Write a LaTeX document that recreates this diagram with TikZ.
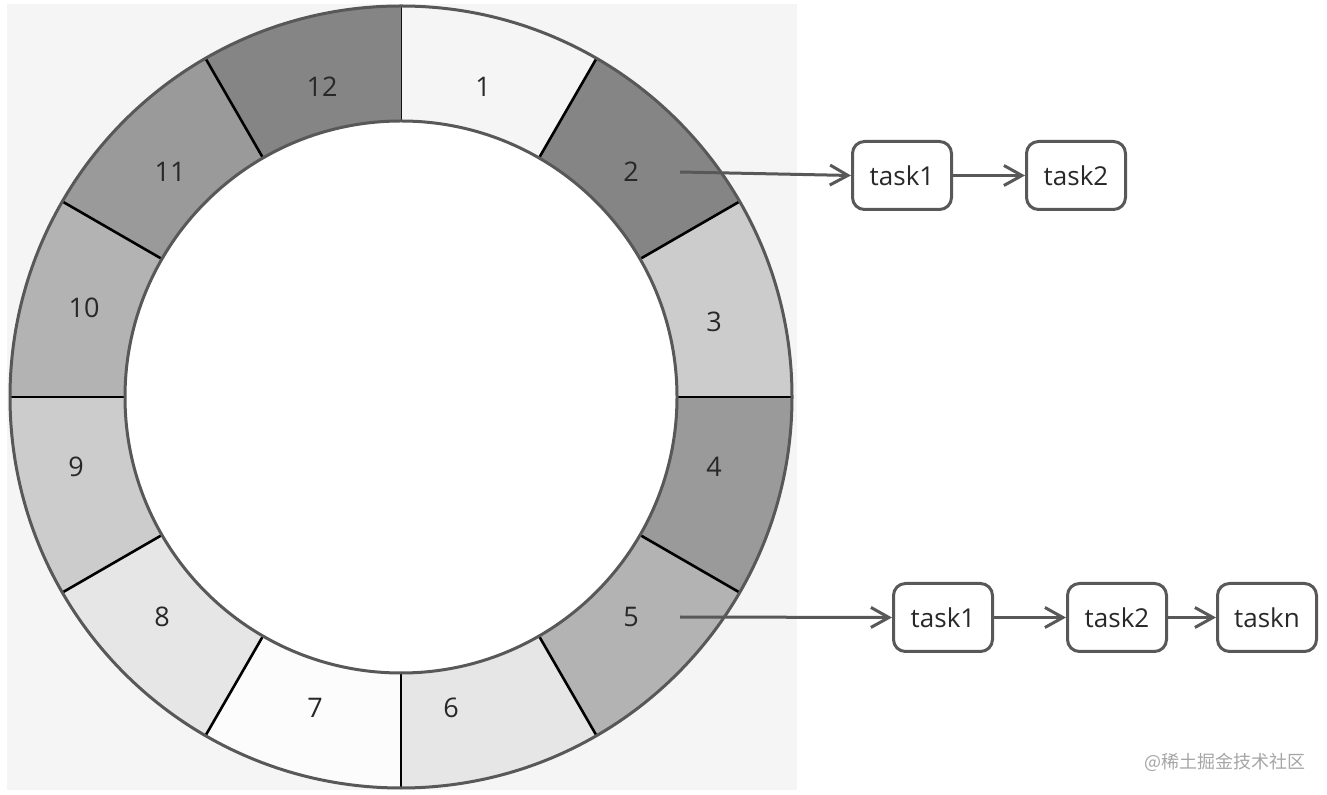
\documentclass[tikz,border=0pt]{standalone}
\usepackage{fontspec}
\setmainfont{Open Sans}
\newfontfamily\cjkfont{Noto Sans CJK SC}
\usetikzlibrary{arrows.meta,positioning,calc}
\definecolor{pagebg}{RGB}{245,245,245}
\definecolor{edgegrey}{RGB}{88,88,88}
\definecolor{txtgrey}{RGB}{40,40,40}
\definecolor{wmgrey}{RGB}{165,165,165}
\tikzset{
  slotlbl/.style={font=\fontsize{13.5}{15}\selectfont,text=txtgrey,inner sep=0pt},
  taskbox/.style={draw=edgegrey,line width=1.5pt,fill=white,rounded corners=6pt,
                  minimum width=49.5pt,minimum height=34pt,inner sep=0pt,
                  font=\fontsize{13}{15}\selectfont,text=txtgrey},
  link/.style={-{Straight Barb[length=9pt,width=10pt]},line width=1.5pt,draw=edgegrey},
  ringline/.style={draw=edgegrey,line width=1.5pt},
}

\begin{document}
\begin{tikzpicture}[x=0.5pt,y=0.5pt]
  \useasboundingbox (0,0) rectangle (1327,-795);
  \fill[pagebg] (7,-4) rectangle (797,-790);
  \coordinate (ctr) at (401,-397);

  % twelve slots of the wheel
  \foreach \k/\shade in {1/245,2/133,3/204,4/154,5/179,6/230,
                         7/252,8/230,9/204,10/179,11/154,12/133}{
    \pgfmathsetmacro{\aa}{90-30*(\k-1)}
    \pgfmathsetmacro{\ab}{90-30*\k}
    \definecolor{segfill}{RGB}{\shade,\shade,\shade}
    \fill[segfill] ($(ctr)+(\aa:391)$) arc[start angle=\aa,end angle=\ab,radius=391]
      -- ($(ctr)+(\ab:276)$) arc[start angle=\ab,end angle=\aa,radius=276] -- cycle;
    \draw[line width=1.3pt] ($(ctr)+(\aa:276)$) -- ($(ctr)+(\aa:391)$);
  }
  \fill[white] (ctr) circle[radius=276];
  \draw[ringline] (ctr) circle[radius=391];
  \draw[ringline] (ctr) circle[radius=276];

  % slot numbers
  \foreach \k/\px/\py in {1/483/87,2/631/172,3/714/322,4/714/467,5/631/617,6/451/708,
                          7/315/708,8/162/617,9/76/467,10/84/308,11/170/172,12/322/87}
    \node[slotlbl] (slot\k) at (\px,-\py) {\k};

  % task lists
  \node[taskbox] (a1) at (902,-175.5) {task1};
  \node[taskbox,right=36pt of a1] (a2) {task2};
  \node[taskbox] (b1) at (943,-617.5) {task1};
  \node[taskbox,right=36pt of b1] (b2) {task2};
  \node[taskbox,right=24pt of b2] (bn) {taskn};

  \coordinate (from2) at (680,-172);
  \coordinate (from5) at (680,-617);
  \draw[link] (from2) -- (a1.west);
  \draw[link] (a1) -- (a2);
  \draw[link] (from5) -- (b1.west);
  \draw[link] (b1) -- (b2);
  \draw[link] (b2) -- (bn);

  \node[font=\cjkfont\fontsize{9}{11}\selectfont,text=wmgrey] (mark) at (1225,-762)
    {@稀土掘金技术社区};
\end{tikzpicture}
\end{document}
